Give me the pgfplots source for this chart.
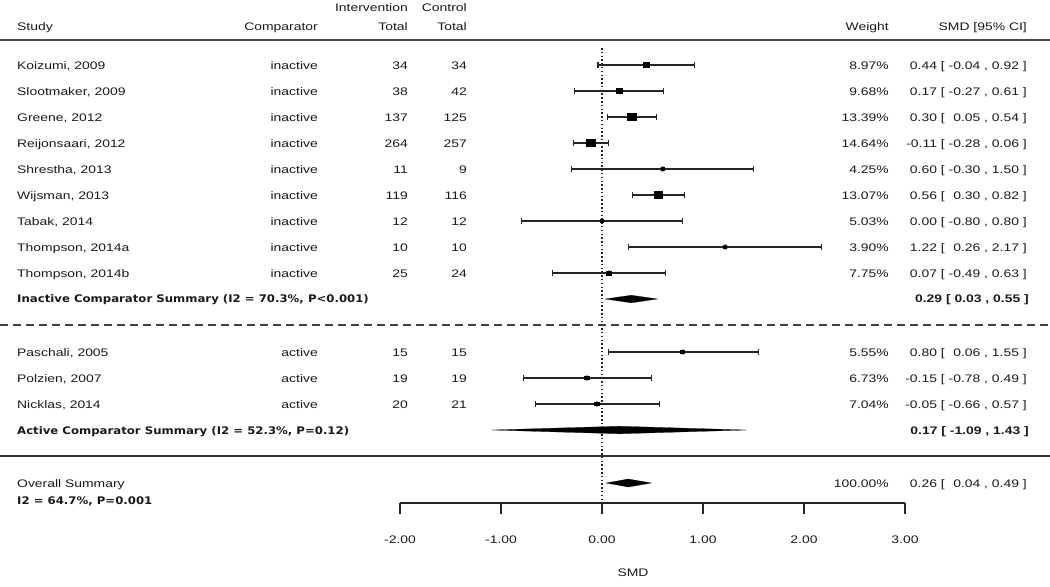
\documentclass[border=0pt]{standalone}
\usepackage{fontspec}
\setmainfont{Liberation Sans}[FakeStretch=1.27]
\newfontfamily\lucb{DejaVu Sans}[FakeStretch=1.12]
\usepackage{pgfplots}
\pgfplotsset{compat=1.18}
\usepackage{pgfplotstable}

\pgfplotstableread{
est lo hi y w
0.44 -0.04 0.92 65 8.97
0.17 -0.27 0.61 91 9.68
0.30 0.05 0.54 117 13.39
-0.11 -0.28 0.06 143 14.64
0.60 -0.30 1.50 169 4.25
0.56 0.30 0.82 195 13.07
0.00 -0.80 0.80 221 5.03
1.22 0.26 2.17 247 3.90
0.07 -0.49 0.63 273 7.75
0.80 0.06 1.55 352 5.55
-0.15 -0.78 0.49 378 6.73
-0.05 -0.66 0.57 404 7.04
}\studies

\newcommand\row[7]{%
  \node[anchor=base west] at (17,#1+4) {#2};
  \node[anchor=base east] at (318,#1+4) {#3};
  \node[anchor=base east] at (408,#1+4) {#4};
  \node[anchor=base east] at (467,#1+4) {#5};
  \node[anchor=base east] at (889,#1+4) {#6};
  \node[anchor=base east] at (1027,#1+4) {#7};
}
\newcommand\p{\phantom{-}}

\begin{document}
\begin{tikzpicture}
\useasboundingbox (0,0) rectangle (1050bp,-587bp);
\begin{axis}[at={(0,0)}, anchor=north west,
  width=1050bp, height=587bp, scale only axis,
  xmin=-5.9604, xmax=4.4356, ymin=0, ymax=587, y dir=reverse,
  hide axis, clip=false]
% reference line
\draw[black!85, line width=1.5pt, dash pattern=on 1.5pt off 2.3pt] (axis cs:0,48) -- (axis cs:0,503);
% confidence intervals
\addplot[black!85, line width=1.1pt, mark=none, only marks, forget plot,
  error bars/.cd, x dir=both, x explicit,
  error bar style={line width=1.1pt, black!85},
  error mark=|,
  error mark options={line width=1.1pt, black!85, mark size=3pt}]
  table[x=est, y=y,
        x error plus expr=\thisrow{hi}-\thisrow{est},
        x error minus expr=\thisrow{est}-\thisrow{lo}] {\studies};
% study squares
\addplot[scatter, only marks, mark=square*,
  scatter/use mapped color={draw=black, fill=black},
  mark options={xscale=1.27, line width=0pt},
  visualization depends on={\thisrow{w} \as \wt},
  scatter/@pre marker code/.append style={/tikz/mark size={0.26*\wt}}]
  table[x=est, y=y] {\studies};
% summary diamonds
\addplot[fill=black, draw=black, line width=0.2pt] coordinates {(0.03,299) (0.29,295.2) (0.55,299) (0.29,302.8) (0.03,299)};
\addplot[fill=black, draw=black, line width=0.2pt] coordinates {(-1.09,430) (0.17,426.2) (1.43,430) (0.17,433.8) (-1.09,430)};
\addplot[fill=black, draw=black, line width=0.2pt] coordinates {(0.04,483) (0.26,479) (0.49,483) (0.26,487) (0.04,483)};
\end{axis}

\begin{scope}[x=1bp, y=-1bp, every node/.style={inner sep=0pt, text=black!90, font=\fontsize{11}{13}\selectfont}]
% header
\node[anchor=base east] at (408,11) {Intervention};
\node[anchor=base east] at (467,11) {Control};
\row{26}{Study}{Comparator}{Total}{Total}{Weight}{SMD [95\% CI]}
\draw[black!70, line width=1.6pt] (0,40) -- (1050,40);
% inactive
\row{65}{Koizumi, 2009}{inactive}{34}{34}{8.97\%}{0.44 [ -0.04 , 0.92 ]}
\row{91}{Slootmaker, 2009}{inactive}{38}{42}{9.68\%}{0.17 [ -0.27 , 0.61 ]}
\row{117}{Greene, 2012}{inactive}{137}{125}{13.39\%}{0.30 [ \p0.05 , 0.54 ]}
\row{143}{Reijonsaari, 2012}{inactive}{264}{257}{14.64\%}{-0.11 [ -0.28 , 0.06 ]}
\row{169}{Shrestha, 2013}{inactive}{11}{9}{4.25\%}{0.60 [ -0.30 , 1.50 ]}
\row{195}{Wijsman, 2013}{inactive}{119}{116}{13.07\%}{0.56 [ \p0.30 , 0.82 ]}
\row{221}{Tabak, 2014}{inactive}{12}{12}{5.03\%}{0.00 [ -0.80 , 0.80 ]}
\row{247}{Thompson, 2014a}{inactive}{10}{10}{3.90\%}{1.22 [ \p0.26 , 2.17 ]}
\row{273}{Thompson, 2014b}{inactive}{25}{24}{7.75\%}{0.07 [ -0.49 , 0.63 ]}
\node[anchor=base west, font=\lucb\bfseries\fontsize{10.5}{12}\selectfont] at (17,302) {Inactive Comparator Summary (I2 = 70.3\%, P<0.001)};
\node[anchor=base east, font=\bfseries\fontsize{11}{13}\selectfont] at (1029,302) {0.29 [ 0.03 , 0.55 ]};
\draw[black!75, line width=1.2pt, dash pattern=on 8bp off 5bp] (0,325) -- (1050,325);
% active
\row{352}{Paschali, 2005}{active}{15}{15}{5.55\%}{0.80 [ \p0.06 , 1.55 ]}
\row{378}{Polzien, 2007}{active}{19}{19}{6.73\%}{-0.15 [ -0.78 , 0.49 ]}
\row{404}{Nicklas, 2014}{active}{20}{21}{7.04\%}{-0.05 [ -0.66 , 0.57 ]}
\node[anchor=base west, font=\lucb\bfseries\fontsize{10.5}{12}\selectfont] at (17,434) {Active Comparator Summary (I2 = 52.3\%, P=0.12)};
\node[anchor=base east, font=\bfseries\fontsize{11}{13}\selectfont] at (1029,434) {0.17 [ -1.09 , 1.43 ]};
\draw[black!80, line width=1.5pt] (0,456) -- (1050,456);
% overall
\node[anchor=base west] at (17,487) {Overall Summary};
\node[anchor=base east] at (889,487) {100.00\%};
\node[anchor=base east] at (1027,487) {0.26 [ \p0.04 , 0.49 ]};
\node[anchor=base west, font=\lucb\bfseries\fontsize{10.5}{12}\selectfont] at (17,504) {I2 = 64.7\%, P=0.001};
% x axis
\draw[black!85, line width=1.4pt] (400,503) -- (905,503);
\foreach \t/\l in {400/-2.00, 501/-1.00, 602/0.00, 703/1.00, 804/2.00, 905/3.00} {
  \draw[black!85, line width=1.4pt] (\t,503) -- (\t,514);
  \node[anchor=base] at (\t,543) {\l};
}
\node[anchor=base] at (633,576) {SMD};
\end{scope}
\end{tikzpicture}
\end{document}
